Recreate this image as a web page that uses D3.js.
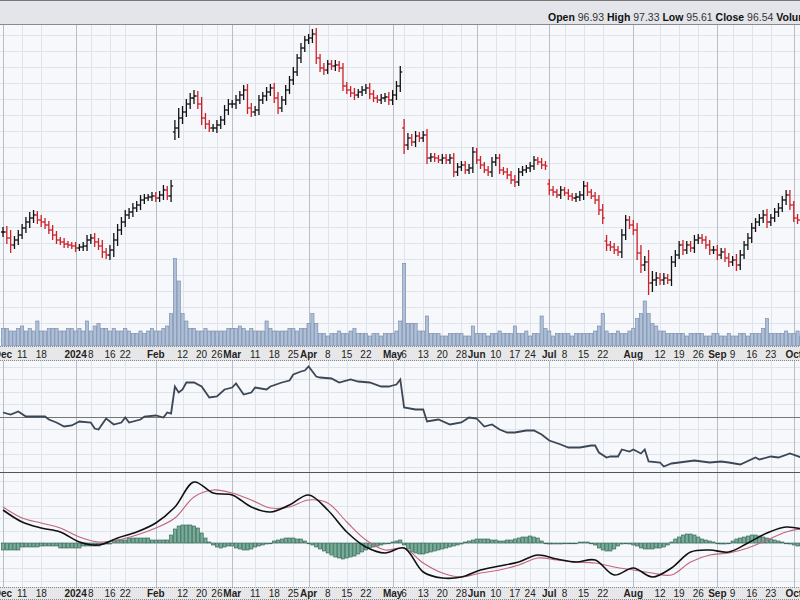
<!DOCTYPE html>
<html>
<head>
<meta charset="utf-8">
<script src="https://cdnjs.cloudflare.com/ajax/libs/d3/7.8.5/d3.min.js"></script>
<style>
  body { margin: 0; background: #fff; }
  svg { display: block; font-family: Arial, "Liberation Sans", sans-serif; }
</style>
</head>
<body>
<div id="chart"></div>
<script>
//Closing prices by month (Dec 2023 - Oct 2024)
var closeDec = [95.5,94.9,94.2,94.7,95.2,95.9,96.5,96.9,97.2,96.7,96.5,96.2,95.7,95.2,94.7,94.5,94.3,94.2,94.1];
var closeJan = [93.9,94.0,94.1,94.7,94.9,94.5,94.1,93.5,93.2,93.7,94.7,95.7,96.5,97.2,97.5,97.9,98.2,98.7,98.9,99.0,99.1];
var closeFeb = [98.9,99.2,99.7,99.1,100.1,105.9,106.9,107.5,108.3,108.9,109.1,108.3,106.9,106.3,105.9,105.9,106.2,106.7,107.7,108.3];
var closeMar = [108.3,108.7,109.2,109.7,107.9,107.5,107.7,108.7,109.1,109.5,109.9,108.9,107.9,108.7,109.7,110.7,111.5,112.9,113.9,114.7];
var closeApr = [114.9,115.3,112.9,111.9,111.7,112.3,112.1,112.2,111.9,110.1,109.7,109.4,109.2,109.5,109.7,109.9,109.3,108.9,108.7,108.9,109.0,108.7];
var closeMay = [109.2,110.1,111.5,104.2,104.9,104.5,105.1,104.9,105.2,102.9,103.0,102.9,102.7,102.9,102.7,102.9,101.5,102.0,102.2,101.7,101.9,103.5];
var closeJun = [102.7,102.2,101.7,101.5,102.5,102.9,101.7,101.5,101.2,100.7,100.5,101.5,101.7,101.9,102.1,102.7,102.5,102.2,102.1];
var closeJul = [99.7,99.5,99.2,99.7,99.4,99.1,98.9,99.0,99.2,100.1,99.5,99.1,98.7,97.7,96.9,94.2,94.0,93.7,93.5,95.2,96.7,96.2];
var closeAug = [95.7,93.4,92.2,92.5,90.4,90.7,90.9,90.7,90.9,90.7,92.5,93.2,94.2,93.7,94.2,93.9,94.7,94.9,94.7,94.2,93.7,93.7];
var closeSep = [93.2,93.5,92.9,92.5,92.7,92.2,93.2,94.2,94.9,95.9,96.5,96.9,97.2,96.5,96.9,97.5,97.9,98.7,99.2,98.2];
var closeOct = [96.9,96.7,96.5,96.54];

//High/low extension beyond the open-close body
var wick = [0.5,0.6,0.8,0.4,0.5,0.4,0.5,0.6,0.5,0.4,0.5,0.4,0.4,0.5,0.4,0.3,0.4,0.3,0.3,
  0.4,0.3,0.4,0.5,0.4,0.5,0.4,0.6,0.4,0.5,0.7,0.6,0.5,0.5,0.4,0.5,0.4,0.5,0.4,0.3,0.4,
  0.4,0.4,0.5,0.4,0.6,0.8,1.0,0.6,0.5,0.5,0.6,0.5,0.7,0.5,0.4,0.4,0.5,0.4,0.5,0.5,
  0.4,0.5,0.4,0.5,0.6,0.5,0.4,0.5,0.4,0.5,0.4,0.5,0.6,0.4,0.5,0.4,0.5,0.4,0.5,0.4,
  0.4,0.5,0.6,0.4,0.5,0.4,0.4,0.5,0.4,0.5,0.4,0.4,0.5,0.3,0.4,0.4,0.5,0.4,0.3,0.4,0.4,0.5,
  0.5,0.5,0.6,0.9,0.5,0.4,0.5,0.4,0.4,0.6,0.4,0.4,0.3,0.4,0.4,0.4,0.5,0.4,0.4,0.4,0.4,0.5,
  0.4,0.4,0.3,0.4,0.5,0.4,0.4,0.3,0.4,0.4,0.5,0.4,0.4,0.3,0.4,0.4,0.3,0.4,0.4,
  0.5,0.4,0.3,0.4,0.3,0.4,0.3,0.4,0.4,0.5,0.4,0.3,0.4,0.5,0.6,0.6,0.4,0.4,0.4,0.6,0.5,0.4,
  0.5,0.7,0.8,0.6,1.2,0.9,0.6,0.5,0.5,0.4,0.6,0.5,0.4,0.5,0.4,0.4,0.5,0.4,0.4,0.4,0.5,0.4,
  0.5,0.4,0.4,0.5,0.4,0.6,0.5,0.4,0.5,0.5,0.4,0.4,0.5,0.6,0.4,0.4,0.5,0.4,0.5,0.5,
  0.4,0.4,0.5,0.4];

//Opening gaps (trading day index -> open)
var gapDays = [45, 105, 143, 158];
var gapOpens = [105.5, 105.9, 100.3, 94.6];

//Volume, millions of shares
var volume = [7,7,6,6,7,8,6,7,6,10,6,6,7,7,7,6,6,7,7,
  6,7,6,10,6,8,9,7,7,6,7,6,6,7,6,5,5,6,5,6,7,
  6,6,7,8,13,35,26,13,10,7,7,6,6,7,6,6,6,6,6,7,
  7,7,8,7,6,7,6,6,6,10,7,6,6,6,6,7,7,6,7,7,
  9,13,9,5,5,4,5,5,6,5,5,6,7,5,5,5,4,5,5,4,5,5,
  5,6,10,33,9,9,9,6,6,12,5,5,5,4,4,5,5,5,5,4,4,8,
  5,5,5,4,5,5,6,5,5,5,8,5,5,6,4,5,5,12,7,
  6,4,5,5,5,5,4,5,5,5,5,5,6,8,13,6,5,5,6,5,5,6,
  7,11,13,18,13,9,8,6,6,5,5,5,5,5,4,5,5,5,5,4,4,5,
  5,4,4,5,4,4,5,5,4,5,5,5,7,11,5,5,5,5,6,5,
  5,6,4,5];

//Relative strength line (trading day index, value)
var relDay = [0,2,4,6,11,12,14,16,18,20,23,24,25,27,29,31,32,33,36,37,40,42,43,44,45,46,47,48,50,52,54,56,58,60,61,63,65,66,69,70,73,75,76,78,79,80,82,83,86,88,91,93,96,99,101,102,103,104,
  105,108,110,111,114,117,120,122,124,126,128,130,132,134,137,139,141,143,146,148,151,154,155,156,158,159,161,162,164,165,167,168,169,172,173,175,177,181,185,188,190,193,197,198,201,203,206,209];
var relVal = [40.8,40.4,41.0,40.0,40.0,39.4,38.8,38.0,38.2,39.0,38.8,37.6,37.4,39.6,38.4,38.8,39.8,38.8,39.4,40.0,40.2,39.8,40.8,40.6,46.0,44.8,45.4,46.8,46.8,46.0,43.8,44.0,45.4,45.8,46.6,44.4,44.8,45.8,45.4,46.0,46.8,47.2,48.4,49.0,49.2,50.0,48.0,47.8,47.6,46.8,47.4,47.0,46.8,46.0,46.0,46.2,46.4,47.4,
  41.8,41.4,41.4,39.0,39.4,38.4,38.8,39.8,39.6,38.0,38.4,37.4,36.8,36.8,37.2,37.2,36.4,35.2,34.4,33.8,33.8,34.2,34.2,32.8,31.8,32.0,32.0,33.4,33.0,33.4,32.6,33.4,31.0,30.8,30.0,30.6,30.8,31.2,30.8,31.0,30.8,30.4,31.8,31.4,32.0,31.8,32.6,31.8];
var relMid = 40;

//MACD and signal, every 5th trading day
var macdStep = 5;
var macdLine = [1.65,1.05,0.75,0.55,0.05,-0.1,0.25,0.55,1.0,1.8,3.05,2.5,2.4,1.8,1.55,1.9,2.4,1.65,0.55,-0.2,
  -0.5,-0.25,-1.45,-1.75,-1.7,-1.35,-1.15,-0.95,-0.6,-0.8,-0.95,-0.85,-1.6,-1.25,-1.7,-1.25,-0.45,-0.35,-0.45,0,0.5,0.8,0.65];
var signalLine = [1.8,1.25,1.0,0.75,0.3,0.05,0.15,0.4,0.75,1.25,2.3,2.65,2.5,2.15,1.75,1.8,2.15,2.0,1.05,0.15,
  -0.35,-0.25,-1.0,-1.5,-1.7,-1.5,-1.35,-1.1,-0.75,-0.85,-0.95,-1.0,-1.2,-1.35,-1.5,-1.6,-0.95,-0.6,-0.5,-0.25,0.15,0.55,0.75];
//MACD histogram, daily
var hist = [-0.35,-0.35,-0.35,-0.35,-0.35,-0.2,-0.2,-0.2,-0.2,-0.2,-0.15,-0.15,-0.15,-0.15,-0.15,
  -0.25,-0.25,-0.25,-0.25,-0.25,-0.25,-0.15,-0.15,-0.15,-0.15,-0.15,-0.05,-0.05,-0.05,
  0.15,0.15,0.15,0.15,0.25,0.25,0.25,0.25,0.25,0.25,0.15,0.15,0.15,0.15,0.15,
  0.4,0.7,0.85,0.9,0.9,0.9,0.85,0.75,0.5,0.25,0.05,
  -0.1,-0.2,-0.25,-0.2,-0.15,-0.15,-0.25,-0.3,-0.35,-0.35,-0.3,-0.2,-0.15,-0.1,-0.05,0,
  0.1,0.15,0.2,0.25,0.25,0.25,0.2,0.2,0.1,0,-0.1,-0.2,-0.3,-0.4,-0.5,-0.6,
  -0.7,-0.75,-0.8,-0.75,-0.7,-0.65,-0.55,-0.45,-0.35,-0.25,-0.2,-0.15,-0.1,-0.05,0,0.05,0.1,0.15,
  -0.1,-0.3,-0.45,-0.5,-0.55,-0.55,-0.5,-0.45,-0.4,-0.35,-0.3,-0.25,-0.2,-0.15,-0.1,-0.05,0.05,
  0.1,0.15,0.2,0.2,0.2,0.2,0.15,0.15,0.1,0.1,0.15,0.15,0.2,0.25,0.3,0.3,0.35,0.3,0.25,0.1,0,
  -0.05,-0.05,-0.05,-0.05,0,0,0,0,0.05,0.05,0.05,0,-0.1,
  -0.25,-0.35,-0.4,-0.4,-0.3,-0.15,-0.05,0,-0.05,-0.1,-0.15,
  -0.25,-0.3,-0.3,-0.3,-0.25,-0.25,-0.2,-0.1,0.05,0.2,0.3,0.4,0.45,0.45,0.4,0.3,0.2,0.15,0.1,
  0.05,0,-0.05,-0.05,0,0.1,0.2,0.25,0.3,0.35,0.4,0.4,0.35,0.3,0.25,0.2,0.15,0.1,0.05,
  0,-0.05,-0.1,-0.15,-0.15,-0.15];

//Axis tick labels (trading day index, label, month start?)
var tickDays = [0,5,10,19,23,28,32,40,47,52,56,60,66,71,76,80,85,90,95,102,105,110,115,120,124,129,134,138,143,147,152,157,165,172,177,182,187,191,196,201,207];
var tickLabels = ["Dec","11","18","2024","8","16","22","Feb","12","20","26","Mar","11","18","25","Apr","8","15","22","May","6","13","20","28","Jun","10","17","24","Jul","8","15","22","Aug","12","19","26","Sep","9","16","23","Oct"];
var tickMajor = ["Dec","2024","Feb","Mar","Apr","May","Jun","Jul","Aug","Sep","Oct"];

//Last bar values for the header
var header = [["Open","96.93"],["High","97.33"],["Low","95.61"],["Close","96.54"],["Volume",""]];

var width = 800, height = 600;
var closes = [].concat(closeDec, closeJan, closeFeb, closeMar, closeApr, closeMay, closeJun, closeJul, closeAug, closeSep, closeOct);

var bars = closes.map(function (c, i) {
  var g = gapDays.indexOf(i);
  var o = g >= 0 ? gapOpens[g] : (i > 0 ? closes[i - 1] : c);
  var w = wick[i] || 0.4;
  return {
    i: i, open: o, close: c,
    high: Math.max(o, c) + w, low: Math.min(o, c) - w,
    up: i === 0 || c >= closes[i - 1],
    vol: volume[i] || 0
  };
});

var x = d3.scaleLinear().domain([0, 1]).range([3, 6.82]);

//Panels
var pricePanel = { top: 25, bottom: 346 };
var relPanel = { top: 361, bottom: 472 };
var macdPanel = { top: 473, bottom: 587 };

var yPrice = d3.scaleLinear().domain([84.1, 116.2]).range([pricePanel.bottom, pricePanel.top]);
var yVol = d3.scaleLinear().domain([0, 40]).range([pricePanel.bottom, pricePanel.bottom - 100]);
var yRel = d3.scaleLinear().domain([28.9, 51.1]).range([relPanel.bottom, relPanel.top]);
var yMacd = d3.scaleLinear().domain([-2.2, 3.5]).range([macdPanel.bottom, macdPanel.top]);

var svg = d3.select("#chart").append("svg").attr("width", width).attr("height", height);

svg.append("clipPath").attr("id", "clip").append("rect").attr("x", 0).attr("y", 0).attr("width", width).attr("height", height);

//Header strip
svg.append("rect").attr("x", 0).attr("y", 0).attr("width", width).attr("height", 24).attr("fill", "#e3e5ea");
svg.append("line").attr("x1", 0).attr("x2", width).attr("y1", 0.5).attr("y2", 0.5).attr("stroke", "#777");
svg.append("line").attr("x1", 0).attr("x2", width).attr("y1", 24.5).attr("y2", 24.5).attr("stroke", "#8a8a8a");

var headText = svg.append("text").attr("x", 548).attr("y", 21).style("font-size", "10.5px").attr("fill", "#111");
header.forEach(function (h) {
  headText.append("tspan").style("font-weight", "bold").text(h[0] + " ");
  if (h[1]) headText.append("tspan").attr("fill", "#333").text(h[1] + "  ");
});

function panelBack(p, yScale, step) {
  var g = svg.append("g");
  g.append("rect").attr("x", 0).attr("y", p.top).attr("width", width).attr("height", p.bottom - p.top).attr("fill", "#f6f8fb");
  var ticks = d3.range(Math.ceil(yScale.domain()[0] / step) * step, yScale.domain()[1], step);
  g.selectAll("line.h").data(ticks).enter().append("line")
    .attr("x1", 0).attr("x2", width)
    .attr("y1", function (d) { return Math.round(yScale(d)) + 0.5; })
    .attr("y2", function (d) { return Math.round(yScale(d)) + 0.5; })
    .attr("stroke", "#dfe3ea");
  g.selectAll("line.v").data(tickDays).enter().append("line")
    .attr("x1", function (d) { return Math.round(x(d)) + 0.5; })
    .attr("x2", function (d) { return Math.round(x(d)) + 0.5; })
    .attr("y1", p.top).attr("y2", p.bottom)
    .attr("stroke", function (d, i) { return tickMajor.indexOf(tickLabels[i]) >= 0 ? "#b9bdc6" : "#dfe3ea"; });
  return g;
}

panelBack(pricePanel, yPrice, 1.6);
panelBack(relPanel, yRel, 2.5);
panelBack(macdPanel, yMacd, 0.625);

//Volume
var vw = 3.2;
svg.append("g").attr("clip-path", "url(#clip)").selectAll("rect").data(bars).enter().append("rect")
  .attr("x", function (d) { return x(d.i) - vw / 2; })
  .attr("y", function (d) { return yVol(d.vol); })
  .attr("width", vw)
  .attr("height", function (d) { return yVol(0) - yVol(d.vol); })
  .attr("fill", "#aebfd7")
  .attr("stroke", "#7186a6")
  .attr("stroke-width", 0.6);

//Price bars
var barG = svg.append("g").attr("clip-path", "url(#clip)").selectAll("g").data(bars).enter().append("g")
  .attr("stroke", function (d) { return d.up ? "#111" : "#cc2027"; })
  .attr("stroke-width", 1.3);
barG.append("line")
  .attr("x1", function (d) { return x(d.i); }).attr("x2", function (d) { return x(d.i); })
  .attr("y1", function (d) { return yPrice(d.high); }).attr("y2", function (d) { return yPrice(d.low); });
barG.append("line")
  .attr("x1", function (d) { return x(d.i) - 2; }).attr("x2", function (d) { return x(d.i); })
  .attr("y1", function (d) { return yPrice(d.open); }).attr("y2", function (d) { return yPrice(d.open); });
barG.append("line")
  .attr("x1", function (d) { return x(d.i); }).attr("x2", function (d) { return x(d.i) + 2; })
  .attr("y1", function (d) { return yPrice(d.close); }).attr("y2", function (d) { return yPrice(d.close); });

//Relative strength panel
svg.append("line").attr("x1", 0).attr("x2", width)
  .attr("y1", Math.round(yRel(relMid)) + 0.5).attr("y2", Math.round(yRel(relMid)) + 0.5)
  .attr("stroke", "#777");
svg.append("path")
  .datum(relDay.map(function (d, i) { return [d, relVal[i]]; }))
  .attr("fill", "none").attr("stroke", "#3b4656").attr("stroke-width", 1.8)
  .attr("d", d3.line().x(function (d) { return x(d[0]); }).y(function (d) { return yRel(d[1]); }));

//MACD panel
var hw = 3.2;
svg.append("g").attr("clip-path", "url(#clip)").selectAll("rect").data(hist).enter().append("rect")
  .attr("x", function (d, i) { return x(i) - hw / 2; })
  .attr("y", function (d) { return yMacd(Math.max(0, d)); })
  .attr("width", hw)
  .attr("height", function (d) { return Math.max(0.8, Math.abs(yMacd(d) - yMacd(0))); })
  .attr("fill", "#74ad98")
  .attr("stroke", "#2f5c4c")
  .attr("stroke-width", 0.6);

var macdPath = d3.line().curve(d3.curveCatmullRom)
  .x(function (d, i) { return x(i * macdStep); })
  .y(function (d) { return yMacd(d); });
svg.append("path").datum(signalLine).attr("fill", "none").attr("stroke", "#c4647a").attr("stroke-width", 1.1).attr("d", macdPath);
svg.append("path").datum(macdLine).attr("fill", "none").attr("stroke", "#111").attr("stroke-width", 1.6).attr("d", macdPath);

//Date axis strips
function dateStrip(y0, y1) {
  var g = svg.append("g");
  g.append("rect").attr("x", 0).attr("y", y0).attr("width", width).attr("height", y1 - y0).attr("fill", "#e7e7e9");
  g.append("line").attr("x1", 0).attr("x2", width).attr("y1", y0 + 0.5).attr("y2", y0 + 0.5)
    .attr("stroke", "#888").attr("stroke-dasharray", "1,1");
  g.append("line").attr("x1", 0).attr("x2", width).attr("y1", y1 - 0.5).attr("y2", y1 - 0.5)
    .attr("stroke", "#888").attr("stroke-dasharray", "1,1");
  g.selectAll("text").data(tickDays).enter().append("text")
    .attr("x", function (d) { return x(d); })
    .attr("y", y1 - 3)
    .attr("text-anchor", "middle")
    .style("font-size", "10px")
    .style("font-weight", function (d, i) { return tickMajor.indexOf(tickLabels[i]) >= 0 ? "bold" : "normal"; })
    .attr("fill", "#222")
    .text(function (d, i) { return tickLabels[i]; });
}
dateStrip(346, 361);
dateStrip(587, 600);

svg.append("line").attr("x1", 0).attr("x2", width).attr("y1", 472.5).attr("y2", 472.5).attr("stroke", "#555");
</script>
</body>
</html>
